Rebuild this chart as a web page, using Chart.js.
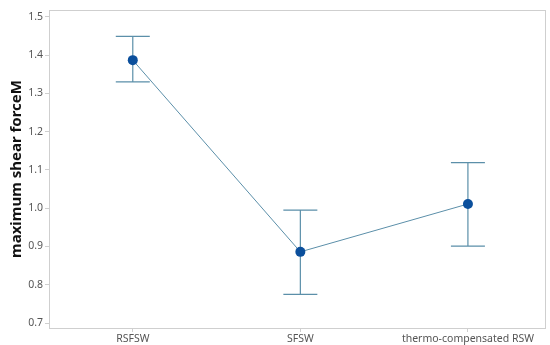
<!DOCTYPE html>
<html>
<head>
<meta charset="utf-8">
<script src="https://cdn.jsdelivr.net/npm/chart.js@4"></script>
<style>
  html, body { margin: 0; padding: 0; background: #ffffff; }
  #wrap { width: 550px; height: 345px; position: relative; }
</style>
</head>
<body>
<div id="wrap"><canvas id="c" width="550" height="345"></canvas></div>
<script>
// Welding methods and their mean maximum shear force with interval bounds
const categories = ['RSFSW', 'SFSW', 'thermo-compensated RSW'];
const means = [1.387, 0.886, 1.011];
const upper = [1.449, 0.995, 1.119];
const lower = [1.330, 0.775, 0.901];
const yTicks = [0.7, 0.8, 0.9, 1.0, 1.1, 1.2, 1.3, 1.4, 1.5];

const lineColor = '#5b8fa9';
const pointColor = '#0b4f9c';
const axisColor = '#cfcfcf';
const tickColor = '#555555';

// Draws the interval whiskers and caps for each category
const errorBars = {
  id: 'errorBars',
  beforeDatasetsDraw(chart) {
    const { ctx, scales: { x, y } } = chart;
    ctx.save();
    ctx.strokeStyle = lineColor;
    ctx.lineWidth = 1.2;
    categories.forEach((_, i) => {
      const px = x.getPixelForValue(i);
      const pTop = y.getPixelForValue(upper[i]);
      const pBot = y.getPixelForValue(lower[i]);
      const half = 17;
      ctx.beginPath();
      ctx.moveTo(px, pTop); ctx.lineTo(px, pBot);
      ctx.moveTo(px - half, pTop); ctx.lineTo(px + half, pTop);
      ctx.moveTo(px - half, pBot); ctx.lineTo(px + half, pBot);
      ctx.stroke();
    });
    ctx.restore();
  }
};

// Light frame around the plotting area
const frame = {
  id: 'frame',
  afterDraw(chart) {
    const { ctx, chartArea: a } = chart;
    ctx.save();
    ctx.strokeStyle = axisColor;
    ctx.lineWidth = 1;
    ctx.strokeRect(Math.round(a.left) + 0.5, Math.round(a.top) + 0.5,
      Math.round(a.right - a.left), Math.round(a.bottom - a.top));
    ctx.restore();
  }
};

new Chart(document.getElementById('c'), {
  type: 'line',
  data: {
    datasets: [{
      data: means.map((v, i) => ({ x: i, y: v })),
      borderColor: lineColor,
      borderWidth: 1,
      pointRadius: 5,
      pointHoverRadius: 5,
      pointBackgroundColor: pointColor,
      pointBorderColor: pointColor,
      pointBorderWidth: 0,
      tension: 0
    }]
  },
  options: {
    responsive: false,
    animation: false,
    devicePixelRatio: 1,
    layout: { padding: { top: 10, right: 5, left: 0, bottom: 0 } },
    plugins: { legend: { display: false }, tooltip: { enabled: false } },
    scales: {
      x: {
        type: 'linear',
        min: -0.5,
        max: 2.46,
        afterBuildTicks(scale) { scale.ticks = categories.map((_, i) => ({ value: i })); },
        afterFit(scale) { scale.height = 17; },
        ticks: {
          callback: (v) => categories[v],
          color: tickColor,
          font: { family: 'Noto Sans', size: 10.5 },
          padding: 1,
          maxRotation: 0,
          autoSkip: false
        },
        grid: { drawOnChartArea: false, color: axisColor, tickLength: 4 },
        border: { color: axisColor }
      },
      y: {
        min: 0.687,
        max: 1.518,
        afterBuildTicks(scale) { scale.ticks = yTicks.map(v => ({ value: v })); },
        afterFit(scale) { scale.width = 49; },
        ticks: {
          callback: (v) => v.toFixed(1),
          color: tickColor,
          font: { family: 'Noto Sans', size: 10.5 },
          padding: 2
        },
        grid: { drawOnChartArea: false, color: axisColor, tickLength: 4 },
        border: { color: axisColor },
        title: {
          display: true,
          text: 'maximum shear forceM',
          color: '#111111',
          font: { family: 'Noto Sans', size: 15, weight: 'bold' },
          padding: { top: 8, bottom: 2 }
        }
      }
    }
  },
  plugins: [errorBars, frame]
});
</script>
</body>
</html>
